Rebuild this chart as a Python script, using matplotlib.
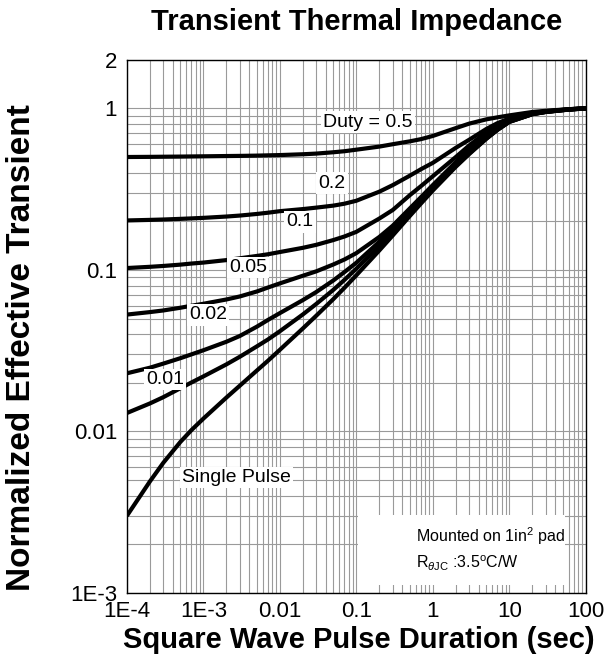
import matplotlib
matplotlib.use("Agg")
import matplotlib.pyplot as plt
import matplotlib.ticker as ticker
from matplotlib.patches import Rectangle

plt.rcParams['font.family'] = ['Liberation Sans', 'DejaVu Sans']
plt.rcParams['mathtext.fontset'] = 'custom'
plt.rcParams['mathtext.rm'] = 'Liberation Sans'
plt.rcParams['mathtext.it'] = 'Liberation Sans:italic'

# pulse duration (sec)
t = [1e-4, 2e-4, 3e-4, 5e-4, 7e-4,
     1e-3, 2e-3, 3e-3, 5e-3, 7e-3,
     0.01, 0.02, 0.03, 0.05, 0.07,
     0.1, 0.2, 0.3, 0.5, 0.7,
     1, 2, 3, 5, 7,
     10, 20, 30, 50, 70,
     100]

# normalized effective transient thermal impedance
z_single = [0.0030, 0.0049, 0.0064, 0.0086, 0.0102,
            0.0120, 0.0162, 0.0192, 0.0238, 0.0274,
            0.032, 0.0434, 0.0521, 0.0659, 0.0775,
            0.0926, 0.132, 0.1635, 0.2155, 0.2575,
            0.310, 0.435, 0.522, 0.647, 0.735,
            0.824, 0.92, 0.95, 0.975, 0.988,
            1.0]
z_001 = [0.0130, 0.0149, 0.0163, 0.0185, 0.0201,
         0.0219, 0.0260, 0.0290, 0.0336, 0.0371,
         0.0417, 0.0530, 0.0616, 0.0752, 0.0867,
         0.1017, 0.1407, 0.1719, 0.2233, 0.2649,
         0.3169, 0.4407, 0.5268, 0.6505, 0.7377,
         0.8258, 0.921, 0.951, 0.975, 0.988,
         1.0]
z_002 = [0.0229, 0.0248, 0.0263, 0.0284, 0.0300,
         0.0318, 0.0359, 0.0390, 0.0445, 0.0490,
         0.054, 0.065, 0.073, 0.086, 0.097,
         0.1107, 0.1494, 0.1802, 0.2312, 0.2724,
         0.3238, 0.4463, 0.5316, 0.6541, 0.7403,
         0.8275, 0.922, 0.951, 0.976, 0.988,
         1.0]
z_005 = [0.0529, 0.0548, 0.0561, 0.0583, 0.0600,
         0.0617, 0.0656, 0.0685, 0.0735, 0.0778,
         0.0825, 0.092, 0.098, 0.108, 0.116,
         0.127, 0.160, 0.188, 0.240, 0.282,
         0.335, 0.465, 0.562, 0.692, 0.770,
         0.838, 0.924, 0.953, 0.976, 0.99,
         1.0]
z_01 = [0.1027, 0.1045, 0.1058, 0.1078, 0.1095,
        0.111, 0.115, 0.118, 0.122, 0.125,
        0.129, 0.137, 0.143, 0.153, 0.161,
        0.172, 0.208, 0.235, 0.290, 0.33,
        0.38, 0.50, 0.59, 0.712, 0.784,
        0.847, 0.928, 0.955, 0.978, 0.991,
        1.0]
z_02 = [0.2024, 0.204, 0.2051, 0.207, 0.2084,
        0.210, 0.214, 0.217, 0.222, 0.226,
        0.231, 0.238, 0.243, 0.250, 0.257,
        0.268, 0.305, 0.335, 0.383, 0.420,
        0.46, 0.57, 0.64, 0.745, 0.81,
        0.866, 0.936, 0.96, 0.98, 0.992,
        1.0]
z_05 = [0.500, 0.501, 0.502, 0.503, 0.504,
        0.505, 0.507, 0.508, 0.510, 0.512,
        0.514, 0.520, 0.525, 0.535, 0.543,
        0.555, 0.58, 0.60, 0.625, 0.645,
        0.675, 0.755, 0.805, 0.855, 0.88,
        0.905, 0.95, 0.966, 0.983, 0.993,
        1.0]

curves = [z_05, z_02, z_01, z_005, z_002, z_001, z_single]

# curve labels and where they sit
labels = ['Duty = 0.5', '0.2', '0.1', '0.05', '0.02', '0.01', 'Single Pulse']
label_x = [0.141, 0.0479, 0.0183, 0.00382, 0.00115, 3.14e-4, 2.74e-3]
label_y = [0.822, 0.345, 0.198, 0.104, 0.0526, 0.0209, 0.00516]

xticks = [1e-4, 1e-3, 0.01, 0.1, 1, 10, 100]
xticklabels = ['1E-4', '1E-3', '0.01', '0.1', '1', '10', '100']
yticks = [1e-3, 0.01, 0.1, 1, 2]
yticklabels = ['1E-3', '0.01', '0.1', '1', '2']

fig = plt.figure(figsize=(6.07, 6.64), dpi=100)
ax = fig.add_axes([0.209, 0.107, 0.756, 0.803])

for z in curves:
    ax.plot(t, z, color='black', lw=3, solid_capstyle='butt',
            solid_joinstyle='round', zorder=3)

ax.set_xscale('log')
ax.set_yscale('log')
ax.set_xlim(1e-4, 100)
ax.set_ylim(1e-3, 2)

ax.xaxis.set_minor_locator(ticker.LogLocator(base=10, subs=range(2, 10), numticks=20))
ax.yaxis.set_minor_locator(ticker.LogLocator(base=10, subs=range(2, 10), numticks=20))
ax.xaxis.set_minor_formatter(ticker.NullFormatter())
ax.yaxis.set_minor_formatter(ticker.NullFormatter())
ax.set_xticks(xticks)
ax.set_xticklabels(xticklabels)
ax.set_yticks(yticks)
ax.set_yticklabels(yticklabels)
ax.tick_params(which='both', length=0, labelsize=16)
ax.tick_params(axis='x', pad=6)
ax.tick_params(axis='y', pad=7)
ax.grid(which='both', color='#9a9a9a', lw=0.8, zorder=0)
ax.set_axisbelow(True)
for s in ax.spines.values():
    s.set_linewidth(1.0)

for txt, x, y in zip(labels, label_x, label_y):
    ax.text(x, y, txt, fontsize=14, ha='center', va='center', zorder=5,
            bbox=dict(facecolor='white', edgecolor='none', pad=1.5))

# note box, lower right
ax.add_patch(Rectangle((0.503, 0.015), 0.451, 0.131, transform=ax.transAxes,
                       facecolor='white', edgecolor='none', zorder=2))
ax.text(0.630, 0.107, 'Mounted on 1in$^2$ pad', transform=ax.transAxes,
        fontsize=11.5, ha='left', va='center', zorder=4)
ax.text(0.630, 0.056, r'R$_{\theta \mathrm{JC}}$ :3.5$^\mathrm{o}$C/W', transform=ax.transAxes,
        fontsize=11.5, ha='left', va='center', zorder=4)

fig.text(0.587, 0.967, 'Transient Thermal Impedance', fontsize=21, fontweight='bold',
         ha='center', va='center')
fig.text(0.591, 0.036, 'Square Wave Pulse Duration (sec)', fontsize=21, fontweight='bold',
         ha='center', va='center')
fig.text(0.036, 0.477, 'Normalized Effective Transient', fontsize=24, fontweight='bold',
         ha='center', va='center', rotation=90)

fig.savefig('out.png', dpi=100)
